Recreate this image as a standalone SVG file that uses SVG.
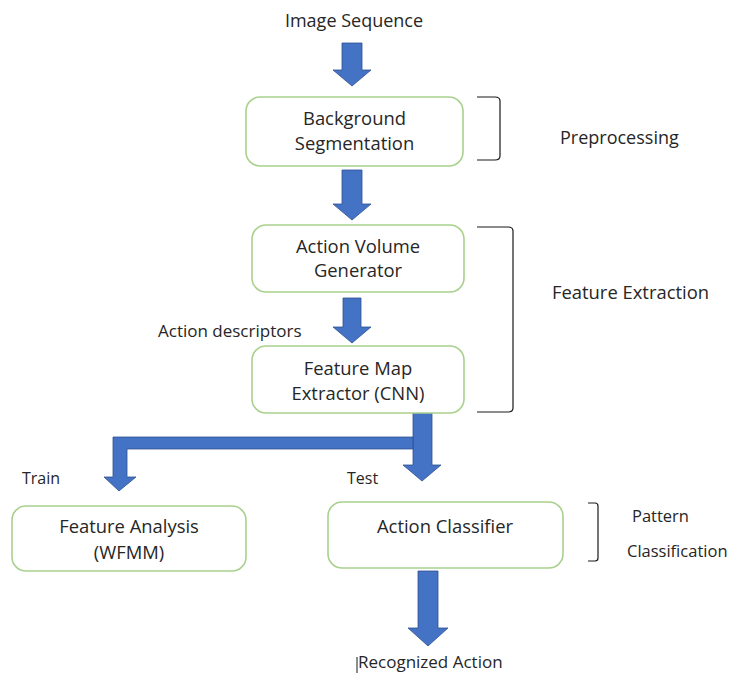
<svg xmlns="http://www.w3.org/2000/svg" width="729" height="673" viewBox="0 0 729 673">
  <style>
    .box { fill: #ffffff; stroke: #A9D18E; stroke-width: 1.6; }
    .lbl { font-family: "Open Sans", "Noto Sans", "Liberation Sans", sans-serif; font-size: 18px; fill: #262626; }
    .big { font-size: 18.4px; }
    .mid { text-anchor: middle; }
    .arrow { fill: #4472C4; stroke: #2F528F; stroke-width: 0.8; }
    .brace { fill: none; stroke: #1a1a1a; stroke-width: 1.2; }
  </style>
  <rect width="729" height="673" fill="#ffffff"/>

  <!-- block arrows between stages -->
  <g id="connectors">
    <polygon class="arrow" points="342,43 362,43 362,70 371,70 352,86 333,70 342,70"/>
    <polygon class="arrow" points="342,170 362,170 362,204 371,204 352,220 333,204 342,204"/>
    <polygon class="arrow" points="343,298 361,298 361,327 371,327 352,343 333,327 343,327"/>
    <!-- split: test path straight down, train path bending left -->
    <polygon class="arrow" points="413,412 432,412 432,465 441,465 422,481 403,465 413,465"/>
    <polygon class="arrow" points="413,437 413,449 127,449 127,477 136,477 119,491 104,477 113,477 113,437"/>
    <polygon class="arrow" points="418,571 438,571 438,628 448,628 428,646 408,628 418,628"/>
  </g>

  <text class="lbl mid" x="354" y="27">Image Sequence</text>

  <g id="background-segmentation">
    <rect class="box" x="246" y="97" width="217" height="69" rx="14"/>
    <text class="lbl big mid" x="354.5" y="125">Background</text>
    <text class="lbl big mid" x="354.5" y="150">Segmentation</text>
  </g>

  <g id="action-volume-generator">
    <rect class="box" x="252" y="225" width="212" height="67" rx="14"/>
    <text class="lbl big mid" x="358" y="253">Action Volume</text>
    <text class="lbl big mid" x="358" y="277">Generator</text>
  </g>

  <text class="lbl" x="158" y="337" style="font-size:17px">Action descriptors</text>

  <g id="feature-map-extractor">
    <rect class="box" x="252" y="346" width="212" height="67" rx="14"/>
    <text class="lbl big mid" x="358" y="375">Feature Map</text>
    <text class="lbl big mid" x="358" y="400">Extractor (CNN)</text>
  </g>

  <text class="lbl" x="22" y="484" style="font-size:16px">Train</text>
  <text class="lbl" x="347" y="484" style="font-size:16px">Test</text>

  <g id="feature-analysis">
    <rect class="box" x="12" y="506" width="234" height="65" rx="14"/>
    <text class="lbl big mid" x="129" y="533">Feature Analysis</text>
    <text class="lbl big mid" x="129" y="559">(WFMM)</text>
  </g>

  <g id="action-classifier">
    <rect class="box" x="328" y="502" width="235" height="66" rx="14"/>
    <text class="lbl big mid" x="445" y="533">Action Classifier</text>
  </g>

  <line x1="357" y1="657" x2="357" y2="673" stroke="#1a1a1a" stroke-width="1"/>
  <text class="lbl" x="358" y="668" style="font-size:17px">Recognized Action</text>

  <!-- stage brackets and their labels -->
  <g id="stages">
    <path class="brace" d="M477,97 L495,97 Q500,97 500,101 L500,156 Q500,160 495,160 L477,160"/>
    <text class="lbl" x="560" y="144">Preprocessing</text>
    <path class="brace" d="M477,227 L508,227 Q513,227 513,231 L513,408 Q513,412 508,412 L477,412"/>
    <text class="lbl big" x="552" y="299">Feature Extraction</text>
    <path class="brace" d="M588,503 L595,503 Q598,503 598,506 L598,558 Q598,561 595,561 L588,561"/>
    <text class="lbl" x="632" y="522" style="font-size:16.5px">Pattern</text>
    <text class="lbl" x="627" y="557" style="font-size:16.5px">Classification</text>
  </g>
</svg>
